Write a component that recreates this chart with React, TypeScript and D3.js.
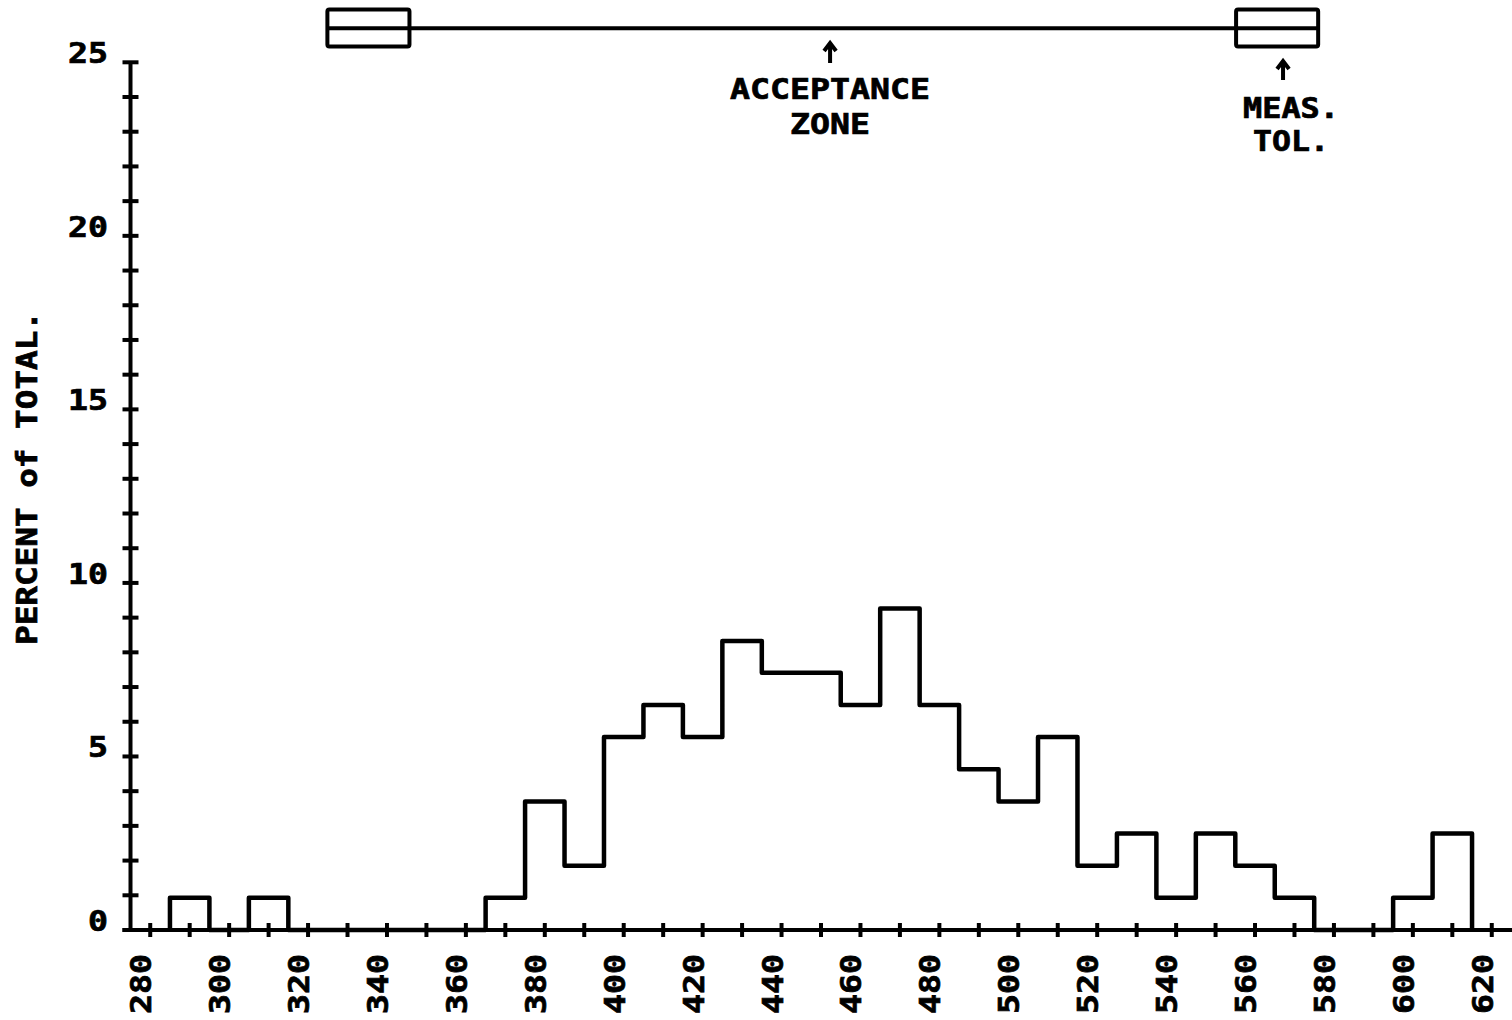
import React from "react";
import * as d3 from "d3";

// ---- data ----
const binCenters = [290, 300, 310, 320, 330, 340, 350, 360, 370, 380, 390, 400, 410, 420, 430, 440, 450, 460, 470, 480, 490, 500, 510, 520, 530, 540, 550, 560, 570, 580, 590, 600, 610];
const percents = [0.93, 0, 0.93, 0, 0, 0, 0, 0, 0.93, 3.7, 1.85, 5.56, 6.48, 5.56, 8.33, 7.41, 7.41, 6.48, 9.26, 6.48, 4.63, 3.7, 5.56, 1.85, 2.78, 0.93, 2.78, 1.85, 0.93, 0, 0, 0.93, 2.78];
const binWidth = 10;

const xTickValues = d3.range(280, 621, 10);
const xLabelValues = [280, 300, 320, 340, 360, 380, 400, 420, 440, 460, 480, 500, 520, 540, 560, 580, 600, 620];
const yTickValues = d3.range(0, 26, 1);
const yLabelValues = [0, 5, 10, 15, 20, 25];

const toleranceCenters = [335.3, 565.6];
const toleranceHalfWidth = 10.4;
const acceptanceArrowAt = 452.3;
const measTolArrowAt = 567.1;

const yTitle = "PERCENT of TOTAL.";
const acceptanceLines = ["ACCEPTANCE", "ZONE"];
const measTolLines = ["MEAS.", "TOL."];

// ---- layout ----
const W = 1512;
const H = 1020;
const CH = 20; // character advance of the plotter lettering
const FONT = "'DejaVu Sans Mono', monospace";
const FS = 27.5;

const fmt = (v: number) => String(v);

export default function App() {
  const x = d3.scaleLinear().domain([275, 625]).range([130.5, 1511.5]);
  const y = d3.scaleLinear().domain([0, 25]).range([930, 62.3]);

  const pts: [number, number][] = [[binCenters[0] - binWidth / 2, 0]];
  binCenters.forEach((c, i) => {
    pts.push([c - binWidth / 2, percents[i]]);
    pts.push([c + binWidth / 2, percents[i]]);
  });
  pts.push([binCenters[binCenters.length - 1] + binWidth / 2, 0]);
  const line = d3
    .line<[number, number]>()
    .x((d) => x(d[0]))
    .y((d) => y(d[1]));

  const x0 = x(275);
  const y0 = y(0);
  const stroke = "#000";

  const boxTop = 9.5;
  const boxBot = 46.5;
  const zoneY = 28.3;

  const arrow = (ax: number, top: number, bot: number) =>
    `M${ax},${bot}L${ax},${top}M${ax - 6},${top + 8}L${ax},${top}L${ax + 6},${top + 8}`;

  const textProps = {
    fontFamily: FONT,
    fontWeight: 700 as const,
    fontSize: FS,
    fill: "#000",
    stroke: "#000",
    strokeWidth: 0.7,
    lengthAdjust: "spacingAndGlyphs" as const,
  };

  return (
    <svg
      width={W}
      height={H}
      style={{ position: "absolute", left: 0, top: 0, background: "#fff" }}
    >
      <rect x={0} y={0} width={W} height={H} fill="#fff" />

      {/* y axis */}
      <line x1={x0} x2={x0} y1={y0} y2={y(25)} stroke={stroke} strokeWidth={4} />
      {yTickValues.map((v) => (
        <line key={"yt" + v} x1={x0 - 8} x2={x0 + 8} y1={y(v)} y2={y(v)} stroke={stroke} strokeWidth={4} />
      ))}
      {yLabelValues.map((v) => (
        <text key={"yl" + v} x={108} y={y(v) + 1} textAnchor="end" {...textProps} textLength={fmt(v).length * CH}>
          {fmt(v)}
        </text>
      ))}

      {/* x axis */}
      <line x1={x0 - 8} x2={1512} y1={y0} y2={y0} stroke={stroke} strokeWidth={4} />
      {xTickValues.map((v) => (
        <line key={"xt" + v} x1={x(v)} x2={x(v)} y1={y0 - 7} y2={y0 + 7} stroke={stroke} strokeWidth={4} />
      ))}
      {xLabelValues.map((v) => (
        <text
          key={"xl" + v}
          transform={`translate(${x(v) + 1},954) rotate(-90)`}
          textAnchor="end"
          {...textProps}
          textLength={fmt(v).length * CH}
        >
          {fmt(v)}
        </text>
      ))}

      {/* y title */}
      <text transform={`translate(37,645) rotate(-90)`} textAnchor="start" {...textProps} textLength={yTitle.length * CH - 6}>
        {yTitle}
      </text>

      {/* histogram */}
      <path d={line(pts) || ""} fill="none" stroke={stroke} strokeWidth={4.5} strokeLinejoin="round" />

      {/* acceptance zone with measurement tolerance boxes */}
      <line
        x1={x(toleranceCenters[0] - toleranceHalfWidth)}
        x2={x(toleranceCenters[1] + toleranceHalfWidth)}
        y1={zoneY}
        y2={zoneY}
        stroke={stroke}
        strokeWidth={4}
      />
      {toleranceCenters.map((c, i) => (
        <rect
          key={"tb" + i}
          x={x(c - toleranceHalfWidth)}
          y={boxTop}
          width={x(c + toleranceHalfWidth) - x(c - toleranceHalfWidth)}
          height={boxBot - boxTop}
          rx={2}
          fill="none"
          stroke={stroke}
          strokeWidth={4}
        />
      ))}

      <path d={arrow(x(acceptanceArrowAt), 43, 63)} fill="none" stroke={stroke} strokeWidth={4} />
      <text x={x(acceptanceArrowAt)} y={98.5} textAnchor="middle" {...textProps} textLength={acceptanceLines[0].length * CH}>
        {acceptanceLines[0]}
      </text>
      <text x={x(acceptanceArrowAt)} y={133.5} textAnchor="middle" {...textProps} textLength={acceptanceLines[1].length * CH}>
        {acceptanceLines[1]}
      </text>

      <path d={arrow(x(measTolArrowAt), 61, 80)} fill="none" stroke={stroke} strokeWidth={4} />
      <text x={1243} y={117.5} textAnchor="start" {...textProps} textLength={measTolLines[0].length * CH - 4}>
        {measTolLines[0]}
      </text>
      <text x={1253} y={151} textAnchor="start" {...textProps} textLength={measTolLines[1].length * CH - 4}>
        {measTolLines[1]}
      </text>
    </svg>
  );
}
